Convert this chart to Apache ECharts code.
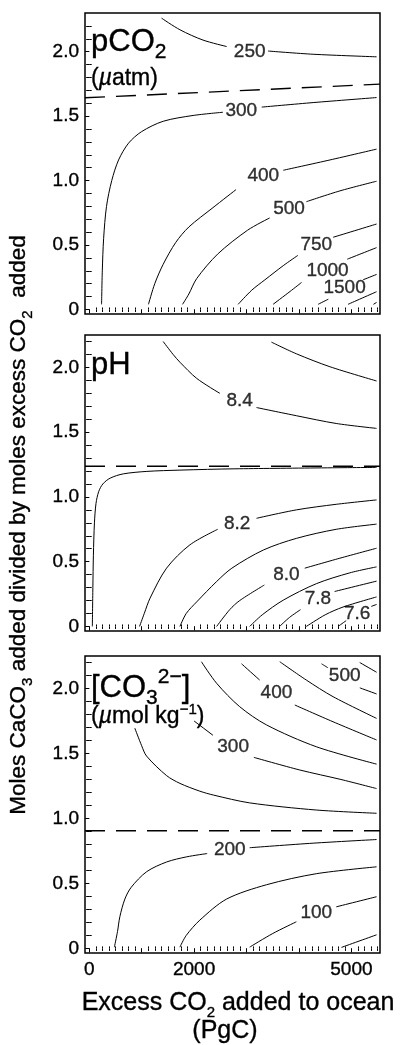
<!DOCTYPE html>
<html>
<head>
<meta charset="utf-8">
<title>CaCO3 / CO2 contours</title>
<script src="https://cdn.jsdelivr.net/npm/echarts@6/dist/echarts.min.js"></script>
<style>
  html, body { margin: 0; padding: 0; background: #fff; }
  #chart { width: 401px; height: 1045px; }
</style>
</head>
<body>
<div id="chart"></div>
<script>
var FONT = '"Liberation Sans", Arial, Helvetica, sans-serif'

// axis ticks and labels
var xMajorTicks = [0, 1000, 2000, 3000, 4000, 5000]
var xLabelTicks = [0, 2000, 5000]
var yMajorTicks = [0, 0.5, 1.0, 1.5, 2.0]
var xMinorTicks = []
for (var k = 125; k <= 5500; k += 125) { if (k % 1000 !== 0) xMinorTicks.push(k) }
var yMinorTicks = []
for (var j = 1; j <= 22; j++) { if (j % 5 !== 0) yMinorTicks.push(j / 10) }
var yAllTicks = []
for (var m = 0; m <= 22; m++) yAllTicks.push(m / 10)

// pCO2 panel (uatm), null = gap for the inline label
var pco2_250 = [[1380, 2.26], [1730, 2.17], [2170, 2.09], [2620, 2.04], null, [3410, 2.005], [4270, 1.98], [5480, 1.96]]
var pco2_300 = [[236, 0.04], [250, 0.3], [275, 0.55], [330, 0.8], [430, 1.0], [560, 1.16], [750, 1.29], [1000, 1.38], [1410, 1.46], [1980, 1.505], [2550, 1.53], null, [3290, 1.57], [4270, 1.605], [5480, 1.644]]
var pco2_400 = [[1130, 0.04], [1250, 0.2], [1410, 0.35], [1650, 0.52], [1900, 0.64], [2360, 0.79], [2800, 0.93], null, [3700, 1.08], [4590, 1.16], [5480, 1.244]]
var pco2_500 = [[1780, 0.04], [1900, 0.12], [2050, 0.24], [2450, 0.43], [3020, 0.615], [3440, 0.71], null, [4140, 0.836], [4780, 0.92], [5480, 0.995]]
var pco2_750 = [[2840, 0.04], [3100, 0.15], [3350, 0.23], [3700, 0.34], [3980, 0.42], null, [4650, 0.56], [5480, 0.663]]
var pco2_1000 = [[3506, 0.04], [3830, 0.14], [4050, 0.21], null, [4920, 0.39], [5480, 0.48]]
var pco2_1500 = [[4364, 0.04], [4560, 0.08], null, [5220, 0.23], [5480, 0.272]]
var pco2_2000 = [[4935, 0.04], [5480, 0.138]]
var pco2_3000 = [[5420, 0.04], [5480, 0.055]]
var pco2_dash = [[-80, 1.642], [5545, 1.748]]
var pco2_labels = [[3060, 2.0, '250'], [2900, 1.54, '300'], [3320, 1.035, '400'], [3810, 0.785, '500'], [4330, 0.5, '750'], [4545, 0.3, '1000'], [4870, 0.172, '1500']]

// pH panel
var ph_85 = [[3475, 2.195], [3950, 2.105], [4590, 2.005], [5480, 1.895]]
var ph_84 = [[1410, 2.2], [1600, 2.1], [1730, 2.04], [2050, 1.915], [2490, 1.8], null, [3190, 1.69], [3950, 1.627], [4710, 1.567], [5480, 1.529]]
var ph_83 = [[60, 0], [70, 0.3], [80, 0.55], [100, 0.8], [130, 0.95], [180, 1.04], [260, 1.1], [400, 1.145], [650, 1.178], [1100, 1.197], [1730, 1.207], [2780, 1.217], [5480, 1.228]]
var ph_82 = [[960, 0], [1050, 0.1], [1160, 0.218], [1475, 0.45], [1920, 0.63], [2450, 0.75], null, [3190, 0.835], [3950, 0.9], [4710, 0.943], [5480, 0.977]]
var ph_81 = [[1730, 0], [1850, 0.1], [2050, 0.19], [2430, 0.347], [2720, 0.45], [3320, 0.59], [3950, 0.68], [4710, 0.75], [5480, 0.79]]
var ph_80 = [[2430, 0], [2680, 0.13], [2870, 0.2], [3340, 0.32], null, [4110, 0.45], [4780, 0.527], [5480, 0.604]]
var ph_79 = [[3060, 0], [3300, 0.09], [3700, 0.203], [4330, 0.33], [4970, 0.414], [5480, 0.46]]
var ph_78 = [[3630, 0], [3820, 0.07], [4030, 0.13], null, [4680, 0.27], [5480, 0.35]]
var ph_77 = [[4140, 0], [4500, 0.09], [4840, 0.15], [5480, 0.228]]
var ph_76 = [[4745, 0], [4900, 0.045], null, [5380, 0.155], [5480, 0.17]]
var ph_dash = [[-80, 1.237], [5545, 1.237]]
var ph_labels = [[2870, 1.74, '8.4'], [2820, 0.79, '8.2'], [3760, 0.397, '8.0'], [4360, 0.215, '7.8'], [5110, 0.1, '7.6']]

// [CO3 2-] panel (umol/kg)
var co3_50 = [[4810, 0.008], [5480, 0.105]]
var co3_100 = [[3060, 0.01], [3500, 0.115], [3950, 0.205], null, [4710, 0.32], [5480, 0.398]]
var co3_150 = [[1730, 0.01], [1850, 0.1], [2110, 0.218], [2620, 0.38], [3380, 0.49], [4330, 0.575], [5480, 0.628]]
var co3_200 = [[480, 0.01], [540, 0.13], [585, 0.245], [680, 0.38], [800, 0.47], [1094, 0.59], [1475, 0.665], [1860, 0.705], [2250, 0.73], null, [3060, 0.775], [4270, 0.81], [5480, 0.838]]
var co3_250 = [[870, 1.695], [1000, 1.56], [1094, 1.48], [1475, 1.33], [1730, 1.27], [2110, 1.21], [2370, 1.18], [3060, 1.12], [4330, 1.065], [5480, 1.04]]
var co3_300 = [[2000, 1.75], [2360, 1.64], null, [3140, 1.47], [4015, 1.373], [4800, 1.3], [5480, 1.23]]
var co3_350 = [[2140, 2.206], [2430, 2.04], [2870, 1.86], [3380, 1.72], [4330, 1.552], [5480, 1.418]]
var co3_400 = [[2905, 2.19], [3250, 2.065], null, [3920, 1.873], [4650, 1.744], [5480, 1.604]]
var co3_450 = [[3634, 2.206], [4140, 2.065], [4650, 1.937], [5480, 1.77]]
var co3_500 = [[4430, 2.19], [4550, 2.16], null, [5160, 2.005], [5480, 1.958]]
var co3_550 = [[5158, 2.2], [5480, 2.125]]
var co3_dash = [[-80, 0.905], [5545, 0.905]]
var co3_labels = [[2680, 0.76, '200'], [4330, 0.278, '100'], [2744, 1.553, '300'], [3570, 1.964, '400'], [4872, 2.097, '500']]

var panels = [
  { top: 13, height: 301, yMax: 2.3, lines: [pco2_250, pco2_300, pco2_400, pco2_500, pco2_750, pco2_1000, pco2_1500, pco2_2000, pco2_3000], dash: pco2_dash, labels: pco2_labels },
  { top: 335, height: 296, yMax: 2.25, lines: [ph_85, ph_84, ph_83, ph_82, ph_81, ph_80, ph_79, ph_78, ph_77, ph_76], dash: ph_dash, labels: ph_labels },
  { top: 656, height: 297, yMax: 2.25, lines: [co3_50, co3_100, co3_150, co3_200, co3_250, co3_300, co3_350, co3_400, co3_450, co3_500, co3_550], dash: co3_dash, labels: co3_labels }
]

var X_MIN = -80
var X_MAX = 5545
var Y_MIN = -0.035

function segments(pts) {
  var out = [[]]
  pts.forEach(function (p) {
    if (p === null) out.push([])
    else out[out.length - 1].push(p)
  })
  return out
}

var grid = []
var xAxis = []
var yAxis = []
var series = []
var tickStyle = { color: '#000', width: 1 }
// slightly heavier glyphs, the scanned figure has thick type
var heavy = { textBorderColor: '#000', textBorderWidth: 0.35 }

panels.forEach(function (pn, i) {
  var last = i === panels.length - 1
  grid.push({ left: 85, width: 295, top: pn.top, height: pn.height, show: true, borderColor: '#000', borderWidth: 1.5 })

  // bottom: major ticks out, minor ticks in; top: all ticks in
  xAxis.push({
    gridIndex: i, type: 'value', min: X_MIN, max: X_MAX, position: 'bottom',
    axisLine: { show: false }, splitLine: { show: false },
    axisTick: { customValues: xMajorTicks, length: 4, lineStyle: tickStyle },
    axisLabel: Object.assign({
      show: last, customValues: xLabelTicks, fontSize: 19, color: '#000', fontFamily: FONT, margin: 7,
      formatter: function (v) { return String(v) }
    }, heavy)
  })
  xAxis.push({
    gridIndex: i, type: 'value', min: X_MIN, max: X_MAX, position: 'bottom',
    axisLine: { show: false }, splitLine: { show: false },
    axisTick: { customValues: xMinorTicks, inside: true, length: 2, lineStyle: tickStyle },
    axisLabel: { show: false }
  })
  xAxis.push({
    gridIndex: i, type: 'value', min: X_MIN, max: X_MAX, position: 'top',
    axisLine: { show: false }, splitLine: { show: false },
    axisTick: { customValues: xMajorTicks.concat(xMinorTicks), inside: true, length: 2.5, lineStyle: tickStyle },
    axisLabel: { show: false }
  })

  yAxis.push({
    gridIndex: i, type: 'value', min: Y_MIN, max: pn.yMax, position: 'left',
    axisLine: { show: false }, splitLine: { show: false },
    axisTick: { customValues: yMajorTicks, length: 4, lineStyle: tickStyle },
    axisLabel: Object.assign({
      customValues: yMajorTicks, fontSize: 19, color: '#000', fontFamily: FONT, margin: 6,
      formatter: function (v) { return v === 0 ? '0' : v.toFixed(1) }
    }, heavy)
  })
  yAxis.push({
    gridIndex: i, type: 'value', min: Y_MIN, max: pn.yMax, position: 'left',
    axisLine: { show: false }, splitLine: { show: false },
    axisTick: { customValues: yMinorTicks, inside: true, length: 2.5, lineStyle: tickStyle },
    axisLabel: { show: false }
  })
  yAxis.push({
    gridIndex: i, type: 'value', min: Y_MIN, max: pn.yMax, position: 'right',
    axisLine: { show: false }, splitLine: { show: false },
    axisTick: { customValues: yAllTicks, inside: true, length: 3, lineStyle: tickStyle },
    axisLabel: { show: false }
  })

  var xi = i * 3
  var yi = i * 3
  pn.lines.forEach(function (ln) {
    segments(ln).forEach(function (seg) {
      series.push({
        type: 'line', xAxisIndex: xi, yAxisIndex: yi, data: seg,
        symbol: 'none', smooth: 0.3, silent: true,
        lineStyle: { color: '#000', width: 1 }
      })
    })
  })
  series.push({
    type: 'line', xAxisIndex: xi, yAxisIndex: yi, data: pn.dash,
    symbol: 'none', silent: true,
    lineStyle: { color: '#000', width: 1.4, type: [20, 11] }
  })
  series.push({
    type: 'scatter', xAxisIndex: xi, yAxisIndex: yi, data: pn.labels,
    symbolSize: 0, silent: true,
    label: Object.assign({
      show: true, position: 'inside', color: '#000', fontSize: 19, fontFamily: FONT,
      formatter: function (p) { return p.value[2] }
    }, heavy)
  })
})

function txt(size, extra) {
  return Object.assign({ fontSize: size, fontFamily: FONT, fill: '#000', stroke: '#000', lineWidth: 0.35 }, extra || {})
}
var big = txt(31, { lineHeight: 42 })
var bigSub = txt(21, { verticalAlign: 'bottom' })
var bigSup = txt(21, { verticalAlign: 'top' })
var mid = txt(23, { lineHeight: 30 })
var midIt = txt(23, { fontStyle: 'italic' })
var midSup = txt(15, { verticalAlign: 'top' })
var ttl = txt(22.5, { lineHeight: 33 })
var ttlSub = txt(15, { verticalAlign: 'bottom' })
var xt = txt(25, { lineHeight: 35 })

var graphic = [
  { type: 'text', x: 91, y: 42, style: { text: '{a|pCO}{s|2}', rich: { a: big, s: bigSub }, align: 'left', verticalAlign: 'middle' } },
  { type: 'text', x: 91, y: 79, style: { text: '{a|(}{i|\u00b5}{a|atm)}', rich: { a: mid, i: midIt }, align: 'left', verticalAlign: 'middle' } },
  { type: 'text', x: 91, y: 365, style: { text: '{a|pH}', rich: { a: big }, align: 'left', verticalAlign: 'middle' } },
  { type: 'text', x: 91, y: 688, style: { text: '{a|[CO}{s|3}{p|2\u2212}{a|]}', rich: { a: big, s: bigSub, p: bigSup }, align: 'left', verticalAlign: 'middle' } },
  { type: 'text', x: 91, y: 717, style: { text: '{a|(}{i|\u00b5}{a|mol kg}{p|\u22121}{a|)}', rich: { a: mid, i: midIt, p: midSup }, align: 'left', verticalAlign: 'middle' } },
  {
    type: 'text', x: 19, y: 525, rotation: Math.PI / 2,
    style: { text: '{t|Moles CaCO}{s|3}{t| added divided by moles excess CO}{s|2}{t|  added}', rich: { t: ttl, s: ttlSub }, align: 'center', verticalAlign: 'middle' }
  },
  { type: 'text', x: 238, y: 1003, style: { text: '{t|Excess CO}{s|2}{t| added to ocean}', rich: { t: xt, s: ttlSub }, align: 'center', verticalAlign: 'middle' } },
  { type: 'text', x: 225, y: 1031, style: { text: '{t|(PgC)}', rich: { t: xt }, align: 'center', verticalAlign: 'middle' } }
]

var myChart = echarts.init(document.getElementById('chart'))
myChart.setOption({
  animation: false,
  backgroundColor: '#fff',
  grid: grid,
  xAxis: xAxis,
  yAxis: yAxis,
  series: series,
  graphic: graphic
})
</script>
</body>
</html>
